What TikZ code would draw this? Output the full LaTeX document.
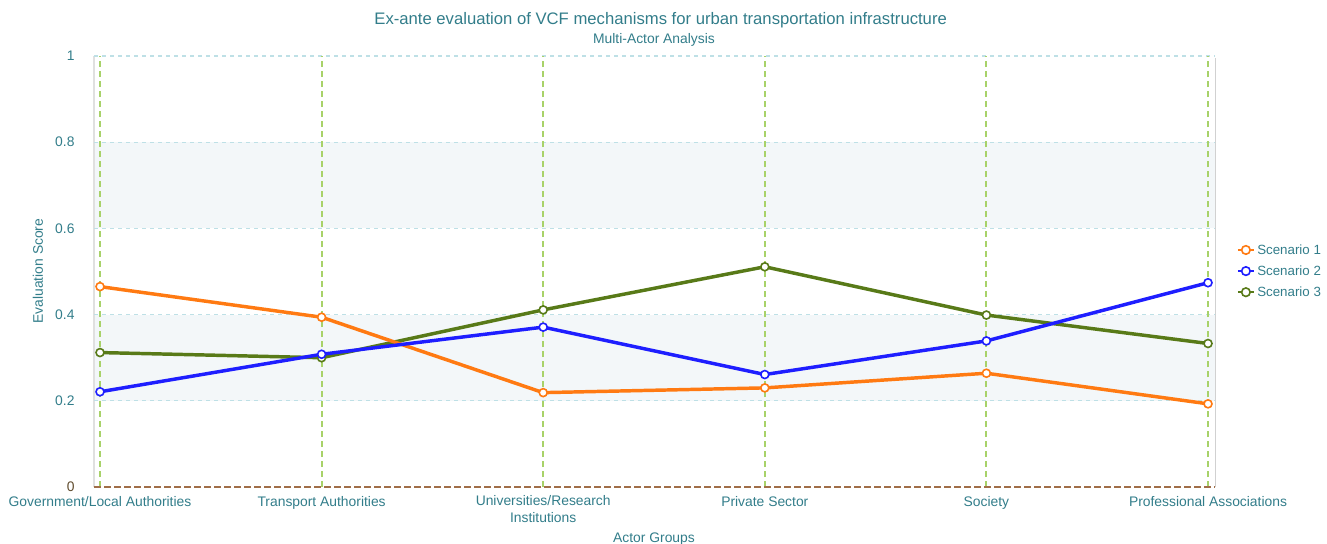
\documentclass[tikz,border=0pt]{standalone}
\usepackage{fontspec}
\setmainfont{Liberation Sans}

\definecolor{txtteal}{RGB}{50,125,138}
\definecolor{zerobrown}{RGB}{95,75,45}
\definecolor{bandfill}{RGB}{243,247,249}
\definecolor{hgrid}{RGB}{190,224,230}
\definecolor{vgrid}{RGB}{168,210,105}
\definecolor{basebrown}{RGB}{160,110,72}
\definecolor{sorange}{RGB}{255,122,18}
\definecolor{sblue}{RGB}{30,30,255}
\definecolor{sgreen}{RGB}{88,122,24}

\tikzset{
  ticklab/.style={text=txtteal, font=\fontsize{10.4}{12.5}\selectfont},
  hline/.style={hgrid, dashed, line width=0.8pt},
  vline/.style={vgrid, dash pattern=on 4.5pt off 3pt, line width=1.4pt},
  series/.style={line width=2.6pt, line join=round},
  marker/.style={line width=1.2pt, fill=white}
}

\begin{document}
\begin{tikzpicture}[x=166.2pt, y=323.25pt]
		\useasboundingbox (-0.4513,-0.1299) rectangle (5.537,1.13);

		% frame and bands
		\fill[bandfill] (-0.027,0.2) rectangle (5.032,0.4);
		\fill[bandfill] (-0.027,0.6) rectangle (5.032,0.8);
		\draw[black!12, line width=0.8pt] (-0.027,0) -- (-0.027,1);
		\draw[black!18, line width=1.2pt] (5.034,0) -- (5.034,0.995);

		\draw[hline] (-0.027,0.2) -- (5.032,0.2);
		\draw[hline] (-0.027,0.4) -- (5.032,0.4);
		\draw[hline] (-0.027,0.6) -- (5.032,0.6);
		\draw[hline] (-0.027,0.8) -- (5.032,0.8);
		\draw[hline] (-0.027,1) -- (5.032,1);

		\draw[vline] (0,0) -- (0,1);
		\draw[vline] (1,0) -- (1,1);
		\draw[vline] (2,0) -- (2,1);
		\draw[vline] (3,0) -- (3,1);
		\draw[vline] (4,0) -- (4,1);
		\draw[vline] (5,0) -- (5,1);

		\draw[basebrown, dash pattern=on 5pt off 2.5pt, line width=1.5pt] (-0.027,0) -- (5.032,0);

		% titles
		\node[text=txtteal, font=\fontsize{12.5}{14}\selectfont] (title) at (2.53,1.0835) {Ex-ante evaluation of VCF mechanisms for urban transportation infrastructure};
		\node[ticklab] (subtitle) at (2.5,1.037) {Multi-Actor Analysis};
		\node[ticklab, rotate=90] (ylab) at (-0.2798,0.501) {Evaluation Score};
		\node[ticklab, anchor=base] (xlab) at (2.5,-0.128) {Actor Groups};

		% y ticks
		\node[ticklab, anchor=east] (y10) at (-0.094,1) {1};
		\node[ticklab, anchor=east] (y08) at (-0.094,0.8) {0.8};
		\node[ticklab, anchor=east] (y06) at (-0.094,0.6) {0.6};
		\node[ticklab, anchor=east] (y04) at (-0.094,0.4) {0.4};
		\node[ticklab, anchor=east] (y02) at (-0.094,0.2) {0.2};
		\node[ticklab, anchor=east, text=zerobrown] (y00) at (-0.094,0) {0};

		% actor groups
		\node[ticklab, anchor=base] (gov) at (0,-0.0457) {Government/Local Authorities};
		\node[ticklab, anchor=base] (tra) at (1,-0.0457) {Transport Authorities};
		\node[ticklab, anchor=base, align=center] (uni) at (2,-0.0812) {Universities/Research\\Institutions};
		\node[ticklab, anchor=base] (pri) at (3,-0.0457) {Private Sector};
		\node[ticklab, anchor=base] (soc) at (4,-0.0457) {Society};
		\node[ticklab, anchor=base] (pro) at (5,-0.0457) {Professional Associations};

		% scenario points
		\coordinate (p11) at (0,0.465);
		\coordinate (p12) at (1,0.394);
		\coordinate (p13) at (2,0.219);
		\coordinate (p14) at (3,0.230);
		\coordinate (p15) at (4,0.264);
		\coordinate (p16) at (5,0.193);

		\coordinate (p21) at (0,0.221);
		\coordinate (p22) at (1,0.308);
		\coordinate (p23) at (2,0.371);
		\coordinate (p24) at (3,0.261);
		\coordinate (p25) at (4,0.339);
		\coordinate (p26) at (5,0.474);

		\coordinate (p31) at (0,0.312);
		\coordinate (p32) at (1,0.300);
		\coordinate (p33) at (2,0.411);
		\coordinate (p34) at (3,0.511);
		\coordinate (p35) at (4,0.399);
		\coordinate (p36) at (5,0.333);

		\draw[series, sgreen] (p31) -- (p32) -- (p33) -- (p34) -- (p35) -- (p36);
		\draw[series, sorange] (p11) -- (p12) -- (p13) -- (p14) -- (p15) -- (p16);
		\draw[series, sblue] (p21) -- (p22) -- (p23) -- (p24) -- (p25) -- (p26);

		\draw[sgreen, marker] (p31) circle (3pt) (p32) circle (3pt) (p33) circle (3pt) (p34) circle (3pt) (p35) circle (3pt) (p36) circle (3pt);
		\draw[sorange, marker] (p11) circle (3pt) (p12) circle (3pt) (p13) circle (3pt) (p14) circle (3pt) (p15) circle (3pt) (p16) circle (3pt);
		\draw[sblue, marker] (p21) circle (3pt) (p22) circle (3pt) (p23) circle (3pt) (p24) circle (3pt) (p25) circle (3pt) (p26) circle (3pt);

		% legend
		\coordinate (k1) at (5.171,0.550);
		\coordinate (k2) at (5.171,0.501);
		\coordinate (k3) at (5.171,0.452);
		\draw[sorange, line width=1.8pt] ([xshift=-6pt]k1) -- ([xshift=6pt]k1);
		\draw[sorange, marker] (k1) circle (3.2pt);
		\draw[sblue, line width=1.8pt] ([xshift=-6pt]k2) -- ([xshift=6pt]k2);
		\draw[sblue, marker] (k2) circle (3.2pt);
		\draw[sgreen, line width=1.8pt] ([xshift=-6pt]k3) -- ([xshift=6pt]k3);
		\draw[sgreen, marker] (k3) circle (3.2pt);
		\node[ticklab, anchor=west, inner sep=0pt, font=\fontsize{10}{12}\selectfont] (leg1) at (5.221,0.550) {Scenario 1};
		\node[ticklab, anchor=west, inner sep=0pt, font=\fontsize{10}{12}\selectfont] (leg2) at (5.221,0.501) {Scenario 2};
		\node[ticklab, anchor=west, inner sep=0pt, font=\fontsize{10}{12}\selectfont] (leg3) at (5.221,0.452) {Scenario 3};

	\end{tikzpicture}
\end{document}
